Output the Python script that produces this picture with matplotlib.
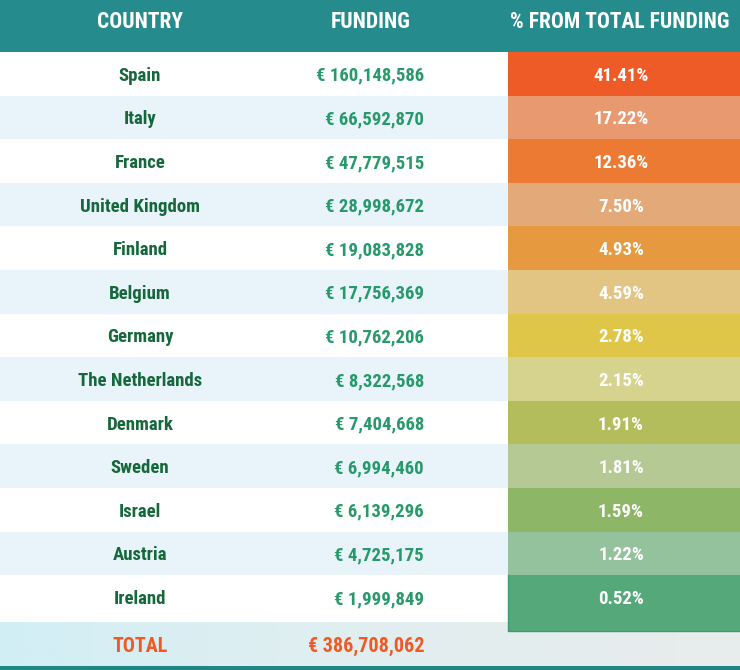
import matplotlib
matplotlib.use("Agg")
import matplotlib.pyplot as plt
from matplotlib.colors import LinearSegmentedColormap
import numpy as np

# datos de la tabla
countries = ["Spain", "Italy", "France", "United Kingdom", "Finland", "Belgium",
             "Germany", "The Netherlands", "Denmark", "Sweden", "Israel",
             "Austria", "Ireland"]
funding = [160148586, 66592870, 47779515, 28998672, 19083828, 17756369,
           10762206, 8322568, 7404668, 6994460, 6139296, 4725175, 1999849]
shares = [41.41, 17.22, 12.36, 7.50, 4.93, 4.59, 2.78, 2.15, 1.91, 1.81,
          1.59, 1.22, 0.52]
total_funding = 386708062
headers = ["COUNTRY", "FUNDING", "% FROM TOTAL FUNDING"]

# colores de las celdas de porcentaje
cell_colors = ["#ef5b27", "#e8996f", "#ec7a33", "#e4a978", "#e6993f", "#e2c583",
               "#dfc649", "#d5d38d", "#b3bd5b", "#b4c993", "#8db666", "#94c29c",
               "#55a87a"]

plt.rcParams['font.family'] = ['Roboto Condensed', 'DejaVu Sans']

fig = plt.figure(figsize=(7.4, 6.7), dpi=100)
ax = fig.add_axes([0, 0, 1, 1])
ax.set_xlim(0, 740)
ax.set_ylim(670, 0)
ax.axis('off')

teal = "#258b8c"
top = 52
row_h = 43.6
n = len(countries)
y = top + row_h * (np.arange(n) + 0.5)

# cabecera
ax.barh(top / 2, 740, left=0, height=top, color=teal)
for label, xc in zip(headers, [140, 371, 620]):
    ax.text(xc, 22, label, color="white", fontsize=15.5, fontweight="bold",
            ha="center", va="center")

# filas alternas
row_bg = ["white" if i % 2 == 0 else "#e8f4fa" for i in range(n)]
ax.barh(y, 740, left=0, height=row_h, color=row_bg)

# fila del total (degradado)
total_top = top + row_h * n + 4
grad = np.linspace(0, 1, 256).reshape(1, -1)
cmap = LinearSegmentedColormap.from_list("tot", ["#d2eef6", "#e2eef0", "#e8ecec"])
ax.imshow(grad, cmap=cmap, aspect="auto", extent=(0, 740, 666, total_top), zorder=1)

# celdas de porcentaje
heights = [row_h] * (n - 1) + [row_h + 12]
ys = list(y[:-1]) + [y[-1] + 6]
ax.barh(ys, 232, left=508, height=heights, color=cell_colors, zorder=2)
ax.plot([508, 508, 740], [y[-1] - row_h / 2, y[-1] + row_h / 2 + 12, y[-1] + row_h / 2 + 12],
        color="#3f9a72", lw=1, zorder=3)

# textos (un poco más abajo del centro, como en el original)
dy = 2
for i in range(n):
    ax.text(140, y[i] + dy, countries[i], color="#16683c", fontsize=13.5,
            fontweight="bold", ha="center", va="center", zorder=4)
    ax.text(424, y[i] + dy, f"€ {funding[i]:,}", color="#27996a", fontsize=13.5,
            fontweight="bold", ha="right", va="center", zorder=4)
    ax.text(621, y[i] + dy, f"{shares[i]:.2f}%", color="white", fontsize=13.5,
            fontweight="bold", ha="center", va="center", zorder=4)

ty = (total_top + 666) / 2 + dy
ax.text(140, ty, "TOTAL", color="#ef5a24", fontsize=14.5, fontweight="bold",
        ha="center", va="center", zorder=4)
ax.text(424, ty, f"€ {total_funding:,}", color="#ef5a24", fontsize=14.5,
        fontweight="bold", ha="right", va="center", zorder=4)

# línea inferior
ax.barh(668, 740, left=0, height=4, color="#1f8686", zorder=5)

fig.savefig("out.png", dpi=100)
